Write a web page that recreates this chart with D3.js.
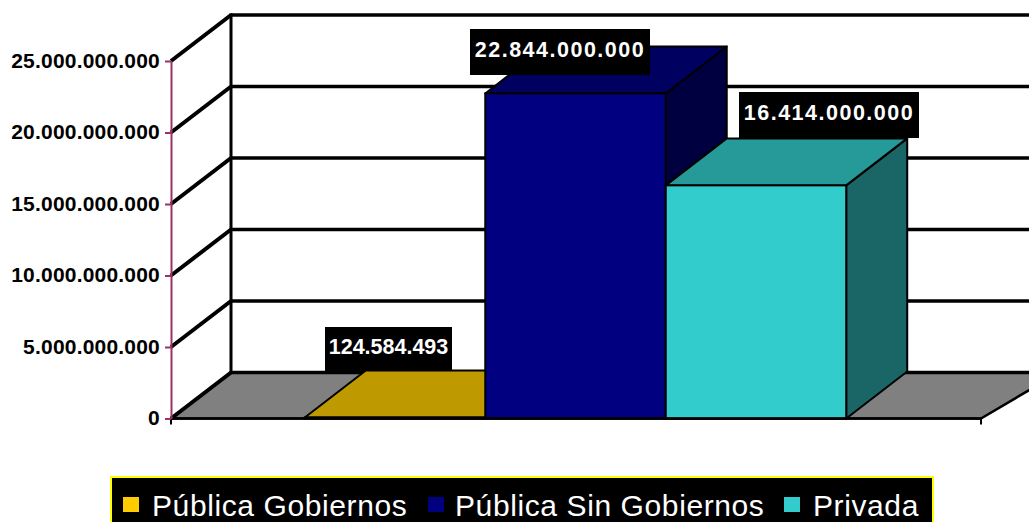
<!DOCTYPE html>
<html><head><meta charset="utf-8">
<script src="https://cdn.jsdelivr.net/npm/d3@7"></script>
<style>html,body{margin:0;background:#fff;overflow:hidden}svg{display:block}text{font-family:"Liberation Sans",Arial,sans-serif}</style>
</head><body><svg id="c" width="1029" height="522"></svg>
<script>
const seriesNames = ["Pública Gobiernos","Pública Sin Gobiernos","Privada"];
const seriesValues = [124584493,22844000000,16414000000];
const seriesLabels = ["124.584.493","22.844.000.000","16.414.000.000"];
const seriesColors = ["#FFCC00","#000080","#33CCCC"];
const tickValues = [0,5e9,10e9,15e9,20e9,25e9];
const legendTextX = [152,455,813];
const legendSwatchX = [123,428,784];
const labelBoxes = [[325,327,127,44],[470,29,180,46],[739,92,180,46]];
const labelSpacing = [0,1.5,1.5];

const svg = d3.select("#c");
const y = d3.scaleLinear().domain([0,25e9]).range([418.5,61]);
const x = d3.scaleBand().domain(seriesNames).range([170.5,980.5]).paddingInner(0).paddingOuter(0.744);
const dx = 60, dy = 46, barDx = 61, barDy = 47, inset = 1.6;
const fmt = v => d3.format(",")(v).replace(/,/g,".");
const poly = (g,pts,fill,sw,stroke="#000") => g.append("polygon").attr("points",pts.map(p=>p.join(",")).join(" ")).attr("fill",fill).attr("stroke",stroke).attr("stroke-width",sw).attr("stroke-linejoin","round");

// walls and gridlines
const grid = svg.append("g");
const wallBack = v => y(v)-dy;
poly(grid,[[171,y(0)],[171+dx,wallBack(0)],[1059,wallBack(0)],[981,y(0)]],"#808080",2.6);
tickValues.forEach(v=>{
  if(v>0) grid.append("line").attr("x1",171).attr("y1",y(v)).attr("x2",171+dx).attr("y2",wallBack(v)).attr("stroke","#000").attr("stroke-width",4);
  grid.append("line").attr("x1",171+dx).attr("y1",wallBack(v)).attr("x2",1029).attr("y2",wallBack(v)).attr("stroke","#000").attr("stroke-width",3.6);
});
grid.append("line").attr("x1",171+dx).attr("y1",wallBack(25e9)-1.8).attr("x2",171+dx).attr("y2",wallBack(0)).attr("stroke","#000").attr("stroke-width",3);
grid.append("line").attr("x1",171).attr("y1",y(0)).attr("x2",171+dx).attr("y2",wallBack(0)).attr("stroke","#000").attr("stroke-width",4);

// bars
const shade = (c,k)=>{const r=d3.rgb(c);return d3.rgb(r.r*k,r.g*k,r.b*k).formatHex();};
const bars = svg.append("g");
seriesNames.forEach((n,i)=>{
  const x0 = x(n), x1 = x0+x.bandwidth();
  const t = Math.min(y(seriesValues[i])+inset, y(0)-1);
  const b = y(0);
  const g = bars.append("g");
  poly(g,[[x1,b],[x1+barDx,b-barDy],[x1+barDx,t-barDy],[x1,t]],shade(seriesColors[i],.5),2);
  poly(g,[[x0,t],[x0+barDx,t-barDy],[x1+barDx,t-barDy],[x1,t]],shade(seriesColors[i],.75),2);
  g.append("rect").attr("x",x0).attr("y",t).attr("width",x.bandwidth()).attr("height",b-t).attr("fill",seriesColors[i]).attr("stroke","#000").attr("stroke-width",2);
});

// front baseline and x tick marks
svg.append("line").attr("x1",171).attr("y1",y(0)).attr("x2",981).attr("y2",y(0)).attr("stroke","#000").attr("stroke-width",2.6);
[171,981].forEach(px=>svg.append("line").attr("x1",px).attr("x2",px).attr("y1",y(0)).attr("y2",y(0)+6).attr("stroke","#000").attr("stroke-width",2));

// value axis
const axis = d3.axisLeft(y).tickValues(tickValues).tickFormat(fmt).tickSize(6).tickPadding(5).tickSizeOuter(0);
const ag = svg.append("g").attr("transform","translate(171,0)").call(axis);
ag.select(".domain").attr("stroke","#993366").attr("stroke-width",2);
ag.selectAll(".tick line").attr("stroke","#993366").attr("stroke-width",2);
ag.selectAll(".tick text").attr("fill","#000").attr("font-family",'"Liberation Sans",Arial,sans-serif').attr("font-size",21).attr("font-weight","bold").attr("letter-spacing",0.2).attr("dy","0.29em");

// data labels
const dl = svg.append("g");
seriesLabels.forEach((s,i)=>{
  const [bx,by,bw,bh]=labelBoxes[i];
  dl.append("rect").attr("x",bx).attr("y",by).attr("width",bw).attr("height",bh).attr("fill","#000");
  dl.append("text").attr("x",bx+bw/2).attr("y",by+bh/2+5).attr("text-anchor","middle").attr("fill","#fff").attr("font-size",21.5).attr("font-weight","bold").attr("letter-spacing",labelSpacing[i]).text(s);
});

// legend
const lg = svg.append("g");
lg.append("rect").attr("x",111).attr("y",477).attr("width",822).attr("height",60).attr("fill","#000").attr("stroke","#FFFF00").attr("stroke-width",2);
seriesNames.forEach((n,i)=>{
  lg.append("rect").attr("x",legendSwatchX[i]).attr("y",497).attr("width",16).attr("height",15).attr("fill",seriesColors[i]);
  lg.append("text").attr("x",legendTextX[i]).attr("y",516).attr("fill","#fff").attr("font-size",30).attr("letter-spacing",0.6).text(n);
});
</script></body></html>
